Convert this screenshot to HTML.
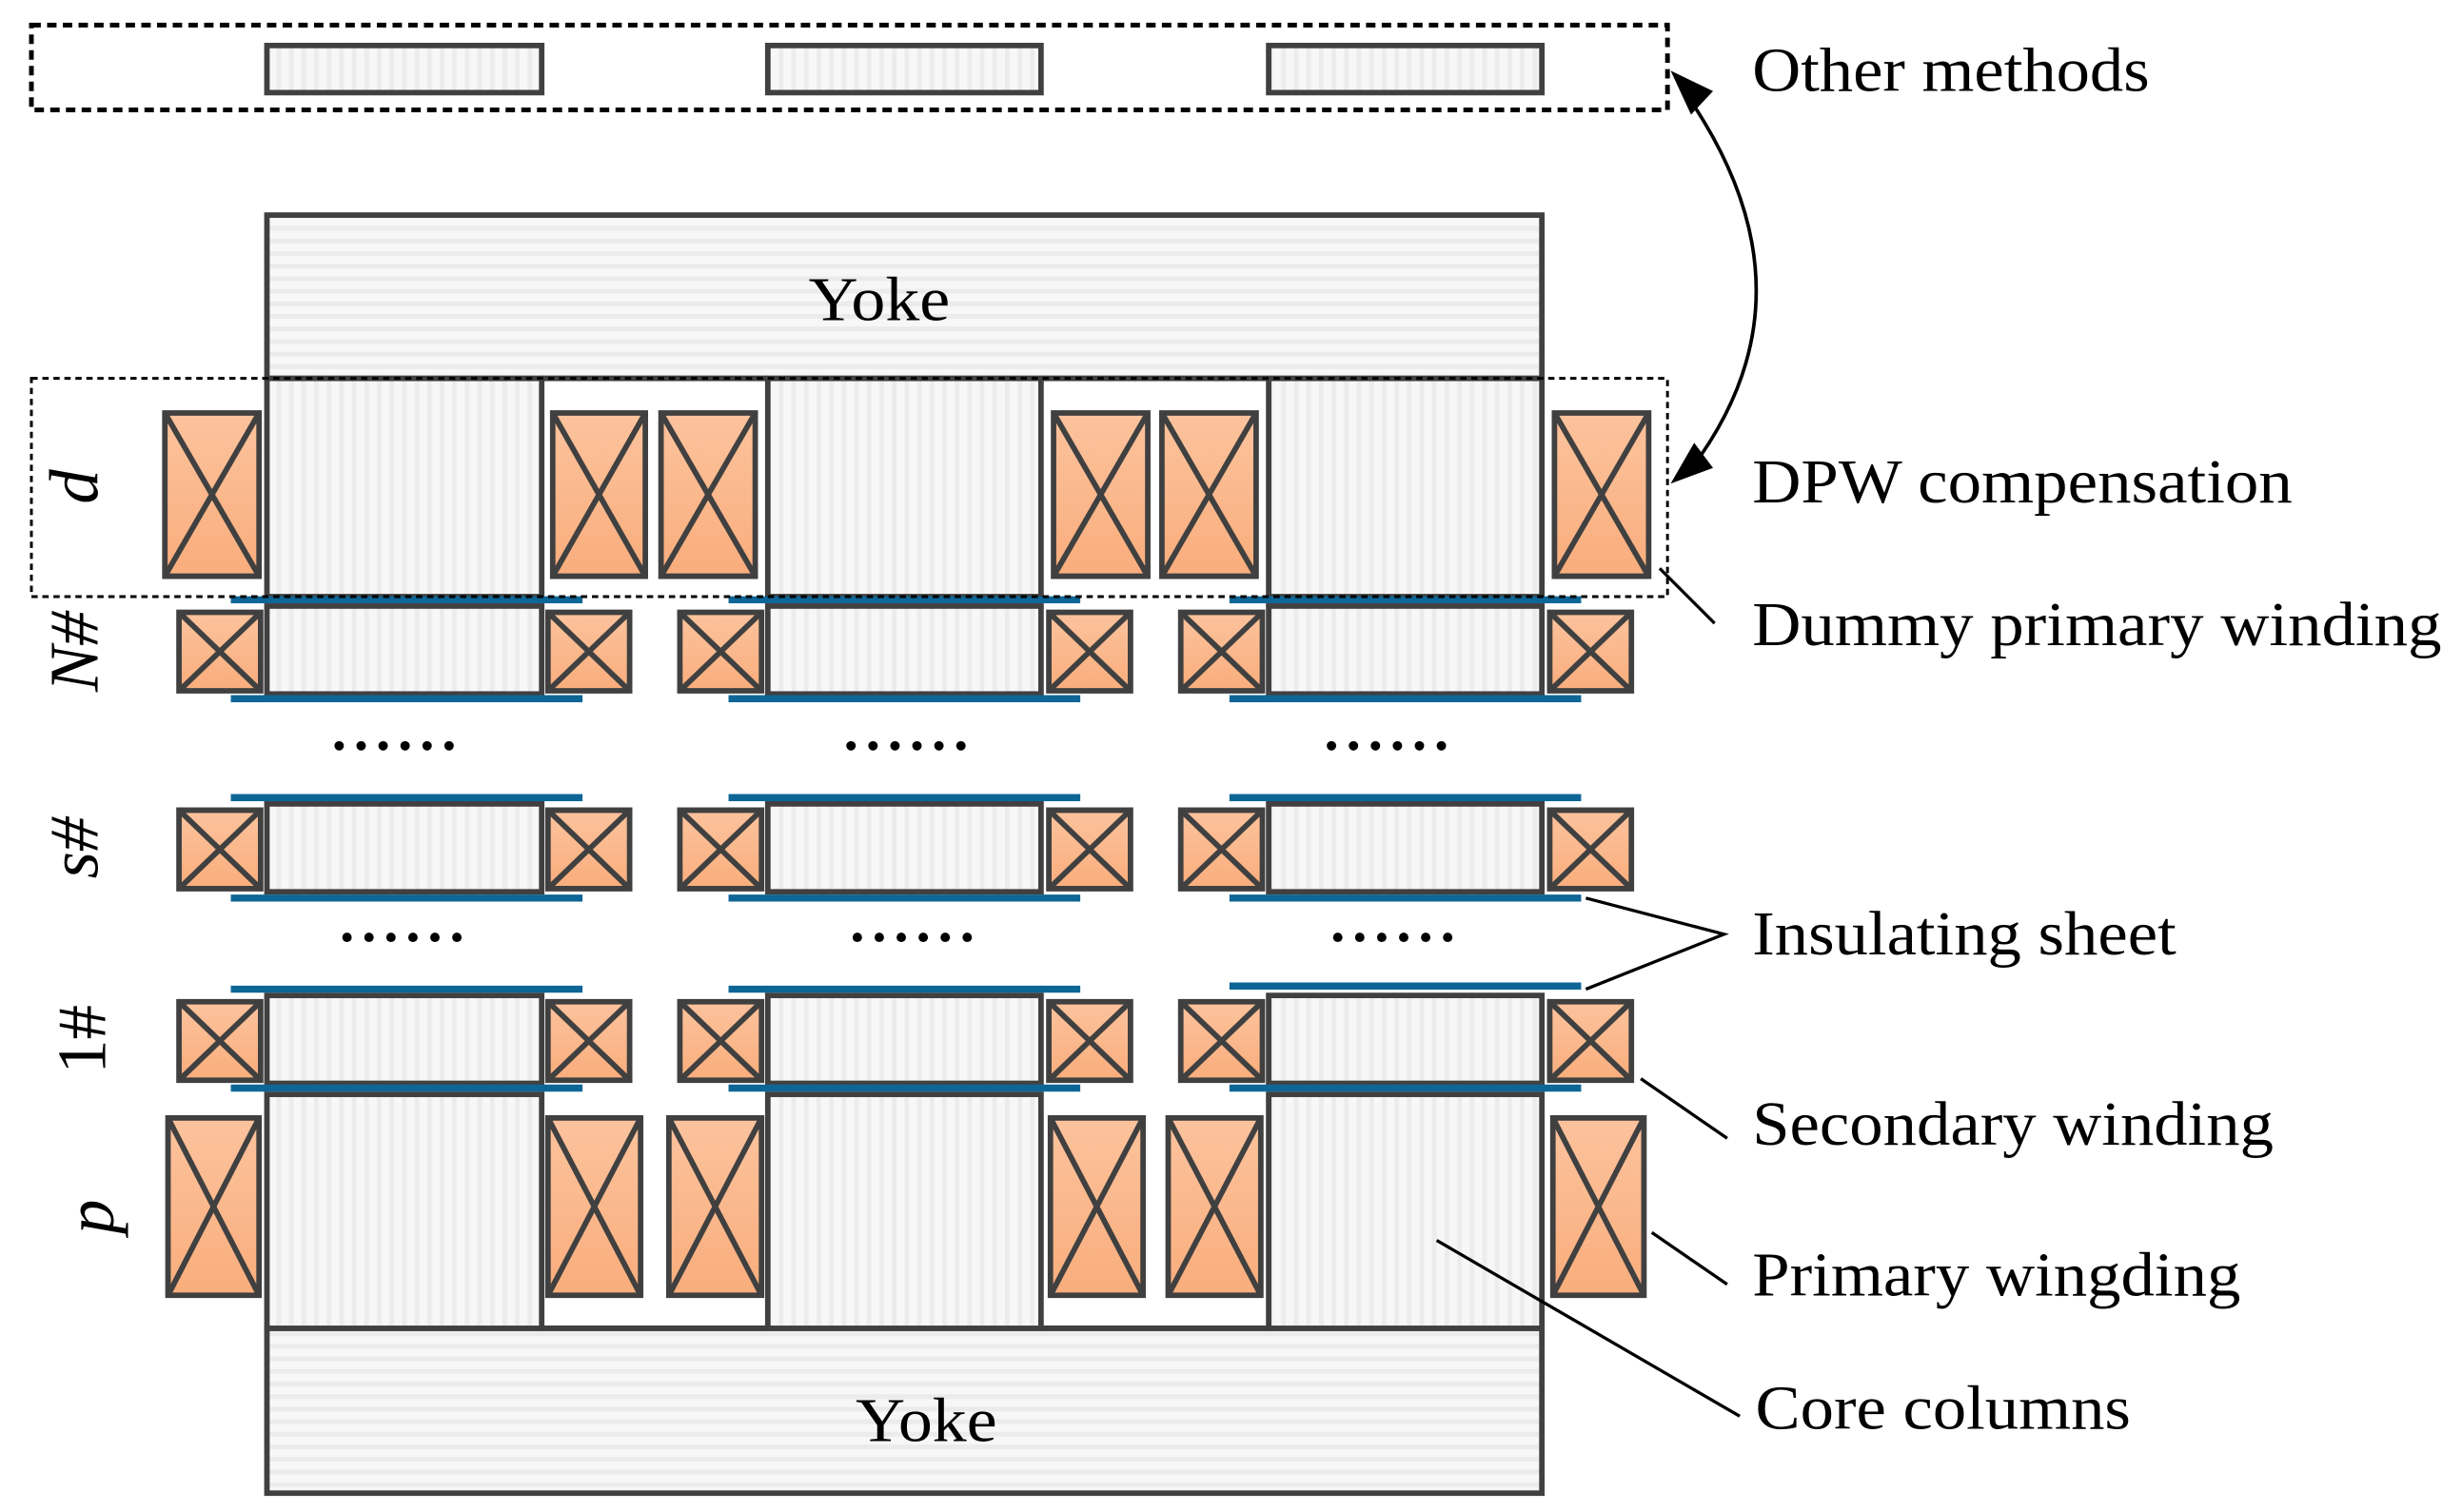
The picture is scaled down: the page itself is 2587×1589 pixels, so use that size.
<!DOCTYPE html>
<html><head><meta charset="utf-8"><style>
html,body{margin:0;padding:0;background:#fff;}
svg{display:block;}
text{font-family:"Liberation Serif",serif;fill:#000;}
</style></head><body>
<svg width="2587" height="1589" viewBox="0 0 1568 963" preserveAspectRatio="none" xmlns="http://www.w3.org/2000/svg">
<defs>
<pattern id="vs" width="8" height="10" patternUnits="userSpaceOnUse"><rect width="8" height="10" fill="#f7f7f7"/><rect x="0" width="3" height="10" fill="#ececec"/></pattern>
<pattern id="hs" width="10" height="8" patternUnits="userSpaceOnUse"><rect width="10" height="8" fill="#f7f7f7"/><rect y="0" width="10" height="3" fill="#ebebeb"/></pattern>
<linearGradient id="cg" x1="0" y1="0" x2="0" y2="1"><stop offset="0" stop-color="#fcc39d"/><stop offset="1" stop-color="#f9ad7c"/></linearGradient>
</defs>
<g stroke="#404040" stroke-width="3.5">
<rect x="170" y="29" width="175" height="30" fill="url(#vs)"/>
<rect x="489" y="29" width="174" height="30" fill="url(#vs)"/>
<rect x="808" y="29" width="174" height="30" fill="url(#vs)"/>
<rect x="170" y="137" width="812" height="104" fill="url(#hs)"/>
<rect x="170" y="846" width="812" height="105" fill="url(#hs)"/>
<rect x="170" y="241" width="175" height="139" fill="url(#vs)"/>
<rect x="489" y="241" width="174" height="139" fill="url(#vs)"/>
<rect x="808" y="241" width="174" height="139" fill="url(#vs)"/>
<line x1="345" y1="241" x2="489" y2="241"/><line x1="663" y1="241" x2="808" y2="241"/>
<rect x="170" y="697" width="175" height="149" fill="url(#vs)"/>
<rect x="489" y="697" width="174" height="149" fill="url(#vs)"/>
<rect x="808" y="697" width="174" height="149" fill="url(#vs)"/>
<line x1="345" y1="846" x2="489" y2="846"/><line x1="663" y1="846" x2="808" y2="846"/>
<rect x="170" y="386" width="175" height="56" fill="url(#vs)"/><rect x="489" y="386" width="174" height="56" fill="url(#vs)"/><rect x="808" y="386" width="174" height="56" fill="url(#vs)"/>
<rect x="170" y="512" width="175" height="56" fill="url(#vs)"/><rect x="489" y="512" width="174" height="56" fill="url(#vs)"/><rect x="808" y="512" width="174" height="56" fill="url(#vs)"/>
<rect x="170" y="634" width="175" height="56" fill="url(#vs)"/><rect x="489" y="634" width="174" height="56" fill="url(#vs)"/><rect x="808" y="634" width="174" height="56" fill="url(#vs)"/>
</g>
<g stroke="#404040" stroke-width="3.5" fill="url(#cg)">
<path d="M105,263h60v104h-60z M105,263L165,367 M165,263L105,367"/>
<path d="M352,263h59v104h-59z M352,263L411,367 M411,263L352,367"/>
<path d="M421,263h60v104h-60z M421,263L481,367 M481,263L421,367"/>
<path d="M671,263h60v104h-60z M671,263L731,367 M731,263L671,367"/>
<path d="M740,263h60v104h-60z M740,263L800,367 M800,263L740,367"/>
<path d="M990,263h60v104h-60z M990,263L1050,367 M1050,263L990,367"/>
<path d="M107,712h58v113h-58z M107,712L165,825 M165,712L107,825"/>
<path d="M349,712h59v113h-59z M349,712L408,825 M408,712L349,825"/>
<path d="M426,712h59v113h-59z M426,712L485,825 M485,712L426,825"/>
<path d="M669,712h59v113h-59z M669,712L728,825 M728,712L669,825"/>
<path d="M744,712h59v113h-59z M744,712L803,825 M803,712L744,825"/>
<path d="M989,712h58v113h-58z M989,712L1047,825 M1047,712L989,825"/>
</g>
<g stroke="#404040" stroke-width="3.5" fill="url(#cg)" id="srow">
<path d="M114,390h52v50h-52z M114,390L166,440 M166,390L114,440"/>
<path d="M349,390h52v50h-52z M349,390L401,440 M401,390L349,440"/>
<path d="M433,390h52v50h-52z M433,390L485,440 M485,390L433,440"/>
<path d="M668,390h52v50h-52z M668,390L720,440 M720,390L668,440"/>
<path d="M752,390h52v50h-52z M752,390L804,440 M804,390L752,440"/>
<path d="M987,390h52v50h-52z M987,390L1039,440 M1039,390L987,440"/>
</g>
<use href="#srow" y="126"/>
<use href="#srow" y="248"/>
<g stroke="#0e6696" stroke-width="4.5">
<path d="M147,382H371 M464,382H688 M783,382H1007 M147,445H371 M464,445H688 M783,445H1007"/>
<path d="M147,508H371 M464,508H688 M783,508H1007 M147,572H371 M464,572H688 M783,572H1007"/>
<path d="M147,630H371 M464,630H688 M783,628H1007 M147,693H371 M464,693H688 M783,693H1007"/>
</g>
<rect x="20" y="16" width="1042" height="54" fill="none" stroke="#000" stroke-width="3" stroke-dasharray="6,4"/>
<rect x="20" y="241" width="1042" height="139" fill="none" stroke="#000" stroke-width="1.8" stroke-dasharray="4,3"/>
<g fill="#000" id="dots">
<circle cx="216" cy="475" r="3"/><circle cx="230" cy="475" r="3"/><circle cx="244" cy="475" r="3"/><circle cx="258" cy="475" r="3"/><circle cx="272" cy="475" r="3"/><circle cx="286" cy="475" r="3"/>
</g>
<use href="#dots" x="326"/><use href="#dots" x="632"/>
<use href="#dots" x="5" y="122"/><use href="#dots" x="330" y="122"/><use href="#dots" x="636" y="122"/>
<text x="560" y="204" font-size="40" text-anchor="middle" textLength="90" lengthAdjust="spacingAndGlyphs">Yoke</text>
<text x="590" y="918" font-size="40" text-anchor="middle" textLength="90" lengthAdjust="spacingAndGlyphs">Yoke</text>
<g font-size="44" font-style="italic" text-anchor="middle">
<text transform="translate(62,310) rotate(-90)">d</text>
<text transform="translate(62,415) rotate(-90)">N#</text>
<text transform="translate(62,540) rotate(-90)">s#</text>
<text transform="translate(67,662) rotate(-90)" font-style="normal">1#</text>
<text transform="translate(72,775) rotate(-90)">p</text>
</g>
<g font-size="40" lengthAdjust="spacingAndGlyphs">
<text x="1116" y="58" textLength="253" lengthAdjust="spacingAndGlyphs">Other methods</text>
<text x="1116" y="320" textLength="344" lengthAdjust="spacingAndGlyphs">DPW compensation</text>
<text x="1116" y="411" textLength="439" lengthAdjust="spacingAndGlyphs">Dummy primary winding</text>
<text x="1116" y="608" textLength="270" lengthAdjust="spacingAndGlyphs">Insulating sheet</text>
<text x="1116" y="729" textLength="332" lengthAdjust="spacingAndGlyphs">Secondary winding</text>
<text x="1116" y="825" textLength="311" lengthAdjust="spacingAndGlyphs">Primary wingding</text>
<text x="1118" y="910" textLength="239" lengthAdjust="spacingAndGlyphs">Core columns</text>
</g>
<path d="M1078,66 Q1160,190 1076,300" fill="none" stroke="#000" stroke-width="2.2"/>
<path d="M1064,45 L1091,58 L1077,73 z" fill="#000"/>
<path d="M1064,308 L1079,282 L1091,298 z" fill="#000"/>
<g stroke="#000" stroke-width="2" fill="none">
<path d="M1057,362L1092,397"/>
<path d="M1010,572L1098,595L1010,630"/>
<path d="M1045,687L1100,725"/>
<path d="M1052,785L1100,818"/>
<path d="M915,790L1108,902"/>
</g>
</svg>
</body></html>
